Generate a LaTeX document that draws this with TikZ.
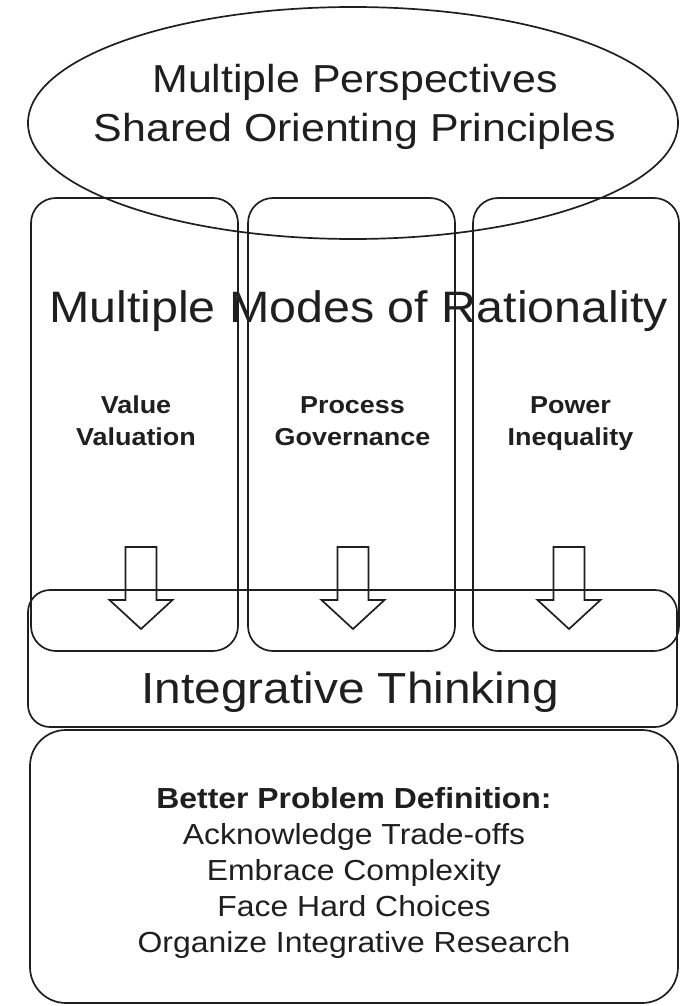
\documentclass[tikz,border=0pt]{standalone}
\usepackage{fontspec}
\setmainfont{Liberation Sans}[FakeStretch=1.1]
\usetikzlibrary{shapes.geometric}
\definecolor{ink}{rgb}{0.12,0.12,0.12}
\begin{document}
\begin{tikzpicture}[x=1pt,y=-1pt,
  box/.style={draw=ink, line width=1.7pt, inner sep=0pt, outer sep=0pt},
  column/.style={box, rounded corners=25pt, minimum width=207pt, minimum height=453pt},
  blockarrow/.style={draw=ink, line width=1.7pt, line join=miter},
  txt/.style={inner sep=0pt, anchor=base, text=ink},
  big/.style={txt, font=\fontsize{39}{47}\selectfont},
  huge/.style={txt, font=\fontsize{44}{52}\selectfont},
  lab/.style={txt, font=\fontsize{24.5}{30}\selectfont\bfseries},
  res/.style={txt, font=\fontsize{29}{35}\selectfont}
]
\useasboundingbox (0,0) rectangle (691,1006);
\fill[white] (0,0) rectangle (691,1006);

% top ellipse
\node[box, ellipse, minimum width=650pt, minimum height=232pt] (persp) at (353,123) {};
\node[big] (t1) at (355,93) {Multiple Perspectives};
\node[big] (t2) at (355,142) {Shared Orienting Principles};

% three columns
\node[column] (colA) at (134.5,424.5) {};
\node[column] (colB) at (351.5,424.5) {};
\node[column, minimum width=206pt] (colC) at (576,424.5) {};

\node[huge] (modes) at (358.5,322) {Multiple Modes of Rationality};

\node[lab] (a1) at (136,413) {Value};
\node[lab] (a2) at (136,445) {Valuation};
\node[lab] (b1) at (352.5,413) {Process};
\node[lab] (b2) at (352.5,445) {Governance};
\node[lab] (c1) at (570.5,413) {Power};
\node[lab] (c2) at (570.5,445) {Inequality};

% integrative box
\node[box, rounded corners=22pt, minimum width=649pt, minimum height=137pt] (integ) at (352.5,658.5) {};
\node[huge, font=\fontsize{43.5}{52}\selectfont] (integT) at (350,703) {Integrative Thinking};

% hollow block arrows
\foreach \cx in {141,353,569}{
  \draw[blockarrow] (\cx-15.5,547) -- (\cx+15.5,547) -- (\cx+15.5,600) -- (\cx+31.5,600)
    -- (\cx,629) -- (\cx-31.5,600) -- (\cx-15.5,600) -- cycle;
}

% bottom box
\node[box, rounded corners=36pt, minimum width=648pt, minimum height=273pt] (better) at (354,866.5) {};
\node[res, font=\fontsize{29}{35}\selectfont\bfseries] (r0) at (354,808) {Better Problem Definition:};
\node[res] (r1) at (354,844) {Acknowledge Trade-offs};
\node[res] (r2) at (354,880) {Embrace Complexity};
\node[res] (r3) at (354,916) {Face Hard Choices};
\node[res] (r4) at (354,952) {Organize Integrative Research};
\end{tikzpicture}
\end{document}
